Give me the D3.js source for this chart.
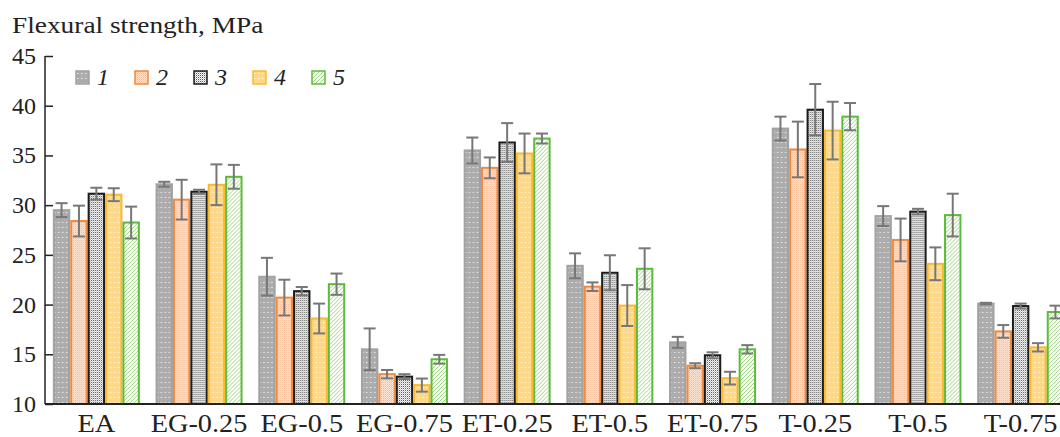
<!DOCTYPE html>
<html>
<head>
<meta charset="utf-8">
<script src="https://cdn.jsdelivr.net/npm/d3@7/dist/d3.min.js"></script>
<style>
  html, body { margin: 0; padding: 0; background: #fff; }
  svg { display: block; font-family: "Liberation Serif", "Times New Roman", serif; }
</style>
</head>
<body>
<svg id="chart" width="1060" height="437"></svg>
<script>
// Flexural strength of the compositions, five specimen series per composition
const categories = ["EA", "EG-0.25", "EG-0.5", "EG-0.75", "ET-0.25", "ET-0.5", "ET-0.75", "T-0.25", "T-0.5", "T-0.75"];
const seriesNames = ["1", "2", "3", "4", "5"];

const series1 = [29.5, 32.1, 22.8, 15.5, 35.5, 23.9, 16.2, 37.7, 28.9, 20.1];
const series2 = [28.4, 30.55, 20.7, 13.0, 33.75, 21.8, 13.85, 35.6, 26.5, 17.3];
const series3 = [31.15, 31.35, 21.35, 12.75, 36.3, 23.2, 14.9, 39.6, 29.35, 19.85];
const series4 = [31.05, 32.05, 18.6, 11.9, 35.2, 19.9, 12.6, 37.5, 24.1, 15.7];
const series5 = [28.25, 32.85, 22.05, 14.5, 36.7, 23.6, 15.5, 38.9, 29.0, 19.25];

const error1 = [0.7, 0.25, 1.9, 2.1, 1.3, 1.25, 0.55, 1.2, 1.0, 0.08];
const error2 = [1.55, 2.0, 1.8, 0.42, 1.05, 0.43, 0.25, 2.8, 2.15, 0.64];
const error3 = [0.6, 0.2, 0.42, 0.25, 1.95, 1.76, 0.3, 2.58, 0.28, 0.25];
const error4 = [0.65, 2.05, 1.5, 0.66, 2.0, 2.06, 0.64, 2.9, 1.65, 0.42];
const error5 = [1.6, 1.2, 1.07, 0.44, 0.5, 2.06, 0.42, 1.37, 2.15, 0.64];

const yTicks = [10, 15, 20, 25, 30, 35, 40, 45];
const yTitle = "Flexural strength, MPa";

const values = [series1, series2, series3, series4, series5];
const errors = [error1, error2, error3, error4, error5];

const svg = d3.select("#chart");
const defs = svg.append("defs");

// Fill patterns, one per series
function makePattern(id, w, h, bg, draw) {
  const p = defs.append("pattern")
    .attr("id", id).attr("patternUnits", "userSpaceOnUse")
    .attr("width", w).attr("height", h);
  p.append("rect").attr("width", w).attr("height", h).attr("fill", bg);
  draw(p);
}
makePattern("pat1", 4, 5, "#acacac", p => {
  p.append("rect").attr("x", 1).attr("y", 2).attr("width", 1.5).attr("height", 1).attr("fill", "#e8e8e8");
});
makePattern("pat2", 2, 2, "#fde6d6", p => {
  p.append("rect").attr("x", 0).attr("y", 0).attr("width", 1).attr("height", 1).attr("fill", "#f8b68c");
  p.append("rect").attr("x", 1).attr("y", 1).attr("width", 1).attr("height", 1).attr("fill", "#fbcfb0");
});
makePattern("pat3", 2, 2, "#f8f8f8", p => {
  p.append("rect").attr("x", 0).attr("y", 0).attr("width", 1).attr("height", 1).attr("fill", "#5a5a5a");
  p.append("rect").attr("x", 1).attr("y", 1).attr("width", 1).attr("height", 1).attr("fill", "#c4c4c4");
});
makePattern("pat4", 4, 5, "#fed889", p => {
  p.append("rect").attr("x", 1).attr("y", 2).attr("width", 1.5).attr("height", 1).attr("fill", "#fff4dc");
});
makePattern("pat5", 4, 4, "#ffffff", p => {
  p.append("path").attr("d", "M0,4 L4,0 M-1,1 L1,-1 M3,5 L5,3")
    .attr("stroke", "#98d878").attr("stroke-width", 1);
});

const fills = ["url(#pat1)", "url(#pat2)", "url(#pat3)", "url(#pat4)", "url(#pat5)"];
const strokes = ["#a2a2a2", "#f2893d", "#1c1c1c", "#f8b934", "#5cbb3a"];

// Scales
const y = d3.scaleLinear().domain([10, 45]).range([404, 56]);
const x0 = d3.scaleBand().domain(categories).range([45, 45 + 1027])
  .paddingInner(0.153).paddingOuter(0.0765);
const x1 = d3.scaleBand().domain(seriesNames).range([0, x0.bandwidth()]);

// Title
svg.append("text").attr("transform", "translate(12,33) scale(1.14,1)")
  .attr("font-size", 24).attr("fill", "#222").text(yTitle);

// Bars
const groups = svg.append("g").selectAll("g")
  .data(categories).join("g")
  .attr("transform", d => `translate(${x0(d)},0)`);

seriesNames.forEach((s, si) => {
  groups.append("rect")
    .attr("x", x1(s) + 1)
    .attr("width", x1.bandwidth() - 2)
    .attr("y", (d, ci) => y(values[si][ci]))
    .attr("height", (d, ci) => y(10) - y(values[si][ci]))
    .attr("fill", fills[si])
    .attr("stroke", strokes[si])
    .attr("stroke-width", 2);
});

// Error bars
const capHalf = 6;
seriesNames.forEach((s, si) => {
  const cx = x1(s) + x1.bandwidth() / 2;
  groups.each(function (d, ci) {
    const g = d3.select(this);
    const v = values[si][ci], e = errors[si][ci];
    const top = y(v + e), bot = y(v - e);
    const col = "#777";
    g.append("line").attr("x1", cx).attr("x2", cx).attr("y1", top).attr("y2", bot)
      .attr("stroke", col).attr("stroke-width", 2);
    g.append("line").attr("x1", cx - capHalf).attr("x2", cx + capHalf).attr("y1", top).attr("y2", top)
      .attr("stroke", col).attr("stroke-width", 2);
    g.append("line").attr("x1", cx - capHalf).attr("x2", cx + capHalf).attr("y1", bot).attr("y2", bot)
      .attr("stroke", col).attr("stroke-width", 2);
  });
});

// Y axis with inward ticks
const yAxis = d3.axisRight(y).tickValues(yTicks).tickSize(8).tickFormat("");
const ya = svg.append("g").attr("transform", "translate(45,0)").call(yAxis);
ya.select(".domain").attr("stroke", "#222").attr("stroke-width", 1.5).attr("d", `M0,${y(45)}V${y(10)}`);
ya.selectAll(".tick line").attr("stroke", "#222").attr("stroke-width", 1.5);

svg.append("g").selectAll("text").data(yTicks).join("text")
  .attr("x", 36).attr("y", d => y(d) + 8)
  .attr("text-anchor", "end").attr("font-size", 24).attr("fill", "#222")
  .text(d => d);

// X axis baseline and category labels
const xAxis = d3.axisBottom(x0).tickSize(0).tickPadding(0);
const xa = svg.append("g").attr("transform", `translate(0,${y(10)})`).call(xAxis);
xa.select(".domain").attr("stroke", "#222").attr("stroke-width", 2).attr("d", `M45,0H1060`);
xa.selectAll(".tick text")
  .attr("font-family", "Liberation Serif, Times New Roman, serif")
  .attr("font-size", 26).attr("fill", "#222").attr("dy", 0).attr("y", 28)
  .attr("transform", "scale(1.09,1)");

// Legend
const legend = svg.append("g").attr("transform", "translate(76,71)");
seriesNames.forEach((s, si) => {
  const lg = legend.append("g").attr("transform", `translate(${si * 59},0)`);
  lg.append("rect").attr("width", 13).attr("height", 13)
    .attr("fill", fills[si]).attr("stroke", strokes[si]).attr("stroke-width", 1.5);
  lg.append("text").attr("x", 21).attr("y", 14)
    .attr("font-size", 24).attr("font-style", "italic").attr("fill", "#222").text(s);
});
</script>
</body>
</html>
